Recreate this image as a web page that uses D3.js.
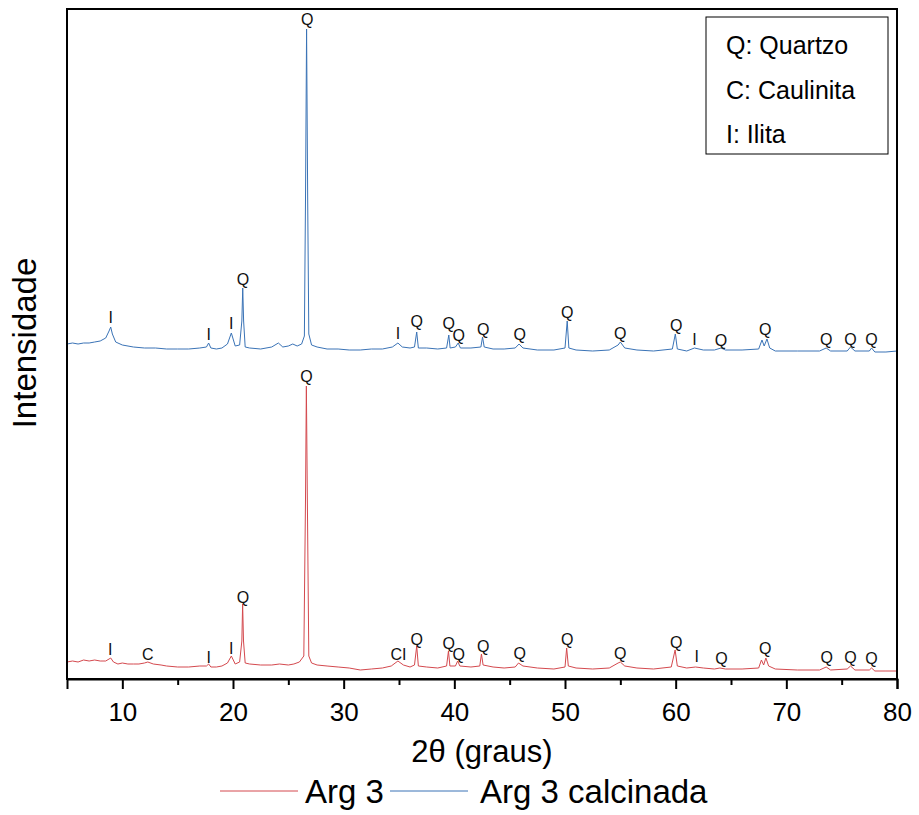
<!DOCTYPE html>
<html>
<head>
<meta charset="utf-8">
<script src="https://cdn.jsdelivr.net/npm/d3@7"></script>
<style>
  body { margin: 0; background: #fff; }
  text { font-family: "Liberation Sans", Arial, sans-serif; }
</style>
</head>
<body>
<svg id="chart" width="919" height="815"></svg>
<script>

// data: [2theta, counts]

var arg3 = [
  [5.0,170],[5.5,180],[6.0,170],[6.5,190],[7.0,180],[7.5,190],[8.0,180],[8.5,180],
  [8.8,200],[8.95,210],[9.2,170],[9.6,150],[10.0,160],[10.5,150],[11.0,150],[11.5,150],
  [12.0,160],[12.3,170],[12.8,150],[13.5,140],[14.0,130],[15.0,120],[16.0,120],[17.0,130],
  [17.6,130],[17.8,150],[18.0,120],[18.5,120],[19.0,130],[19.5,160],[19.85,230],[20.2,150],
  [20.6,170],[20.8,380],[20.87,750],[20.95,380],[21.1,160],[21.5,150],[22.5,140],[23.5,140],
  [24.2,150],[25.0,140],[25.5,150],[26.0,170],[26.4,230],[26.55,1780],[26.63,2930],[26.72,1780],
  [26.85,230],[27.1,160],[27.6,140],[28.5,130],[29.5,120],[30.5,110],[31.5,90],[32.5,100],
  [33.5,110],[34.3,130],[34.9,180],[35.4,140],[36.0,120],[36.4,140],[36.6,330],[36.75,130],
  [37.5,120],[38.5,110],[39.3,130],[39.47,280],[39.6,130],[40.1,130],[40.3,180],[40.5,130],
  [41.5,120],[42.3,130],[42.45,250],[42.6,140],[43.5,120],[44.5,110],[45.5,120],[45.8,160],
  [46.2,130],[47.5,110],[49.0,100],[50.0,120],[50.15,310],[50.3,130],[51.0,110],[52.5,100],
  [54.0,110],[54.8,160],[55.0,170],[55.4,130],[56.5,110],[58.0,100],[59.6,120],[59.95,290],
  [60.15,130],[61.0,110],[61.8,120],[62.5,110],[63.5,100],[64.0,110],[64.5,100],[66.0,100],
  [67.5,110],[67.75,190],[67.95,140],[68.15,210],[68.4,130],[69.0,100],[71.0,90],[73.0,90],
  [73.6,120],[74.0,90],[75.5,100],[75.8,130],[76.2,90],[77.5,90],[77.7,110],[78.0,80],
  [79.0,80],[80.0,80]
];

var arg3Calcinada = [
  [5.0,150],[5.5,160],[6.0,150],[6.5,160],[7.0,160],[7.5,170],[8.0,180],[8.5,210],
  [8.8,280],[8.95,320],[9.1,250],[9.4,170],[10.0,140],[11.0,120],[12.0,110],[13.0,110],
  [14.0,100],[15.0,100],[16.0,100],[17.0,110],[17.6,120],[17.8,160],[18.0,110],[18.5,100],
  [19.0,110],[19.5,150],[19.85,260],[20.2,130],[20.6,140],[20.8,380],[20.88,710],[20.96,380],
  [21.1,120],[21.5,110],[22.5,100],[23.5,120],[24.1,160],[24.5,120],[25.0,130],[25.4,150],
  [25.8,130],[26.2,150],[26.45,230],[26.55,1580],[26.65,3300],[26.75,1580],[26.85,250],[27.1,140],
  [27.6,120],[28.5,100],[29.5,100],[30.5,90],[31.5,90],[32.5,100],[33.5,100],[34.4,120],
  [34.9,160],[35.3,120],[36.0,110],[36.4,120],[36.6,270],[36.75,110],[37.5,110],[38.5,100],
  [39.3,110],[39.5,240],[39.62,110],[40.1,120],[40.35,160],[40.55,110],[41.5,110],[42.4,120],
  [42.55,220],[42.7,120],[43.5,100],[44.5,100],[45.5,110],[45.85,150],[46.2,110],[47.5,90],
  [49.0,90],[50.0,110],[50.2,380],[50.35,110],[51.0,90],[52.5,80],[54.0,90],[54.8,140],
  [55.0,170],[55.4,110],[56.5,90],[58.0,80],[59.7,100],[59.97,250],[60.15,100],[61.0,80],
  [61.7,110],[62.5,90],[63.5,90],[64.1,110],[64.5,90],[66.0,90],[67.5,100],[67.8,190],
  [68.0,130],[68.25,200],[68.5,110],[69.0,80],[71.0,80],[73.0,80],[73.6,110],[74.0,80],
  [75.5,80],[75.8,120],[76.2,80],[77.5,80],[77.7,110],[78.0,70],[79.0,70],[80.0,80]
];

// phase labels: [2theta, counts, text]

var arg3Labels = [
  [8.9,300,"I"],[12.3,250,"C"],[17.8,220,"I"],[19.85,310,"I"],[20.9,820,"Q"],
  [26.65,3030,"Q"],[34.95,250,"CI"],[36.6,400,"Q"],[39.5,360,"Q"],[40.4,250,"Q"],
  [42.6,330,"Q"],[45.9,260,"Q"],[50.2,400,"Q"],[55.0,260,"Q"],[60.05,370,"Q"],
  [61.9,230,"I"],[64.15,210,"Q"],[68.1,310,"Q"],[73.65,220,"Q"],[75.8,220,"Q"],[77.7,210,"Q"]
];

var calcinadaLabels = [
  [8.95,420,"I"],[17.8,250,"I"],[19.85,360,"I"],[20.9,800,"Q"],[26.7,3400,"Q"],
  [34.9,260,"I"],[36.6,380,"Q"],[39.5,360,"Q"],[40.4,240,"Q"],[42.6,300,"Q"],
  [45.9,250,"Q"],[50.2,470,"Q"],[55.0,260,"Q"],[60.05,340,"Q"],[61.7,200,"I"],
  [64.1,190,"Q"],[68.1,300,"Q"],[73.6,200,"Q"],[75.8,200,"Q"],[77.7,200,"Q"]
];

var calcinadaOffset = 3200;

var majorTicks = [10, 20, 30, 40, 50, 60, 70, 80];
var minorTicks = [15, 25, 35, 45, 55, 65, 75];

var phaseLegend = ["Q: Quartzo", "C: Caulinita", "I: Ilita"];
var seriesNames = ["Arg 3", "Arg 3 calcinada"];
var seriesColors = ["#d4494e", "#3a73b6"];

// layout (no "top" global, it clashes with window.top)

var plotLeft = 67, plotRight = 897, plotTop = 9, plotBottom = 679;

var svg = d3.select("#chart");

var x = d3.scaleLinear().domain([5, 80]).range([plotLeft, plotRight]);
var y = d3.scaleLinear().domain([0, 6700]).range([plotBottom, plotTop]);

var line = d3.line()
  .x(function (d) { return x(d[0]); })
  .y(function (d) { return y(d[1]); });

// series

svg.append("path")
  .datum(arg3)
  .attr("d", line)
  .attr("fill", "none")
  .attr("stroke", seriesColors[0])
  .attr("stroke-width", 1);

svg.append("path")
  .datum(arg3Calcinada.map(function (d) { return [d[0], d[1] + calcinadaOffset]; }))
  .attr("d", line)
  .attr("fill", "none")
  .attr("stroke", seriesColors[1])
  .attr("stroke-width", 1);

// peak labels

function drawLabels(list, offset)
{
  svg.append("g")
    .selectAll("text")
    .data(list)
    .enter()
    .append("text")
    .attr("x", function (d) { return x(d[0]); })
    .attr("y", function (d) { return y(d[1] + offset); })
    .attr("text-anchor", "middle")
    .attr("dominant-baseline", "central")
    .style("font-size", "16px")
    .style("fill", "#111")
    .text(function (d) { return d[2]; });
}

drawLabels(arg3Labels, 0);
drawLabels(calcinadaLabels, calcinadaOffset);

// frame and axis

svg.append("rect")
  .attr("x", plotLeft).attr("y", plotTop)
  .attr("width", plotRight - plotLeft).attr("height", plotBottom - plotTop)
  .attr("fill", "none")
  .attr("stroke", "#000")
  .attr("stroke-width", 2);

var axis = svg.append("g")
  .attr("transform", "translate(0," + plotBottom + ")")
  .call(d3.axisBottom(x).tickValues(majorTicks).tickSize(10).tickPadding(14).tickFormat(d3.format("d")));

axis.select(".domain").attr("stroke-width", 2);
axis.selectAll(".tick line").attr("stroke-width", 2);
axis.selectAll("text").style("font-size", "26px").style("font-family", "'Liberation Sans', Arial, sans-serif");

var minor = svg.append("g")
  .attr("transform", "translate(0," + plotBottom + ")")
  .call(d3.axisBottom(x).tickValues(minorTicks).tickSize(6).tickFormat(""));

minor.select(".domain").remove();
minor.selectAll(".tick line").attr("stroke-width", 2);

// axis titles

svg.append("text")
  .attr("x", 482).attr("y", 762)
  .attr("text-anchor", "middle")
  .style("font-size", "31px")
  .text("2\u03b8 (graus)");

svg.append("text")
  .attr("transform", "translate(36,343) rotate(-90)")
  .attr("text-anchor", "middle")
  .style("font-size", "33px")
  .text("Intensidade");

// phase legend box

svg.append("rect")
  .attr("x", 706).attr("y", 17)
  .attr("width", 182).attr("height", 137)
  .attr("fill", "#fff")
  .attr("stroke", "#000")
  .attr("stroke-width", 1);

svg.append("g")
  .selectAll("text")
  .data(phaseLegend)
  .enter()
  .append("text")
  .attr("x", 726)
  .attr("y", function (d, i) { return 54 + i * 44.5; })
  .style("font-size", "25px")
  .text(function (d) { return d; });

// series legend

var legend = svg.append("g");

legend.append("line")
  .attr("x1", 220).attr("x2", 298).attr("y1", 791).attr("y2", 791)
  .attr("stroke", seriesColors[0]).attr("stroke-width", 1);

legend.append("text")
  .attr("x", 305).attr("y", 803)
  .style("font-size", "33px")
  .text(seriesNames[0]);

legend.append("line")
  .attr("x1", 390).attr("x2", 468).attr("y1", 791).attr("y2", 791)
  .attr("stroke", seriesColors[1]).attr("stroke-width", 1);

legend.append("text")
  .attr("x", 480).attr("y", 803)
  .style("font-size", "33px")
  .text(seriesNames[1]);

</script>
</body>
</html>
